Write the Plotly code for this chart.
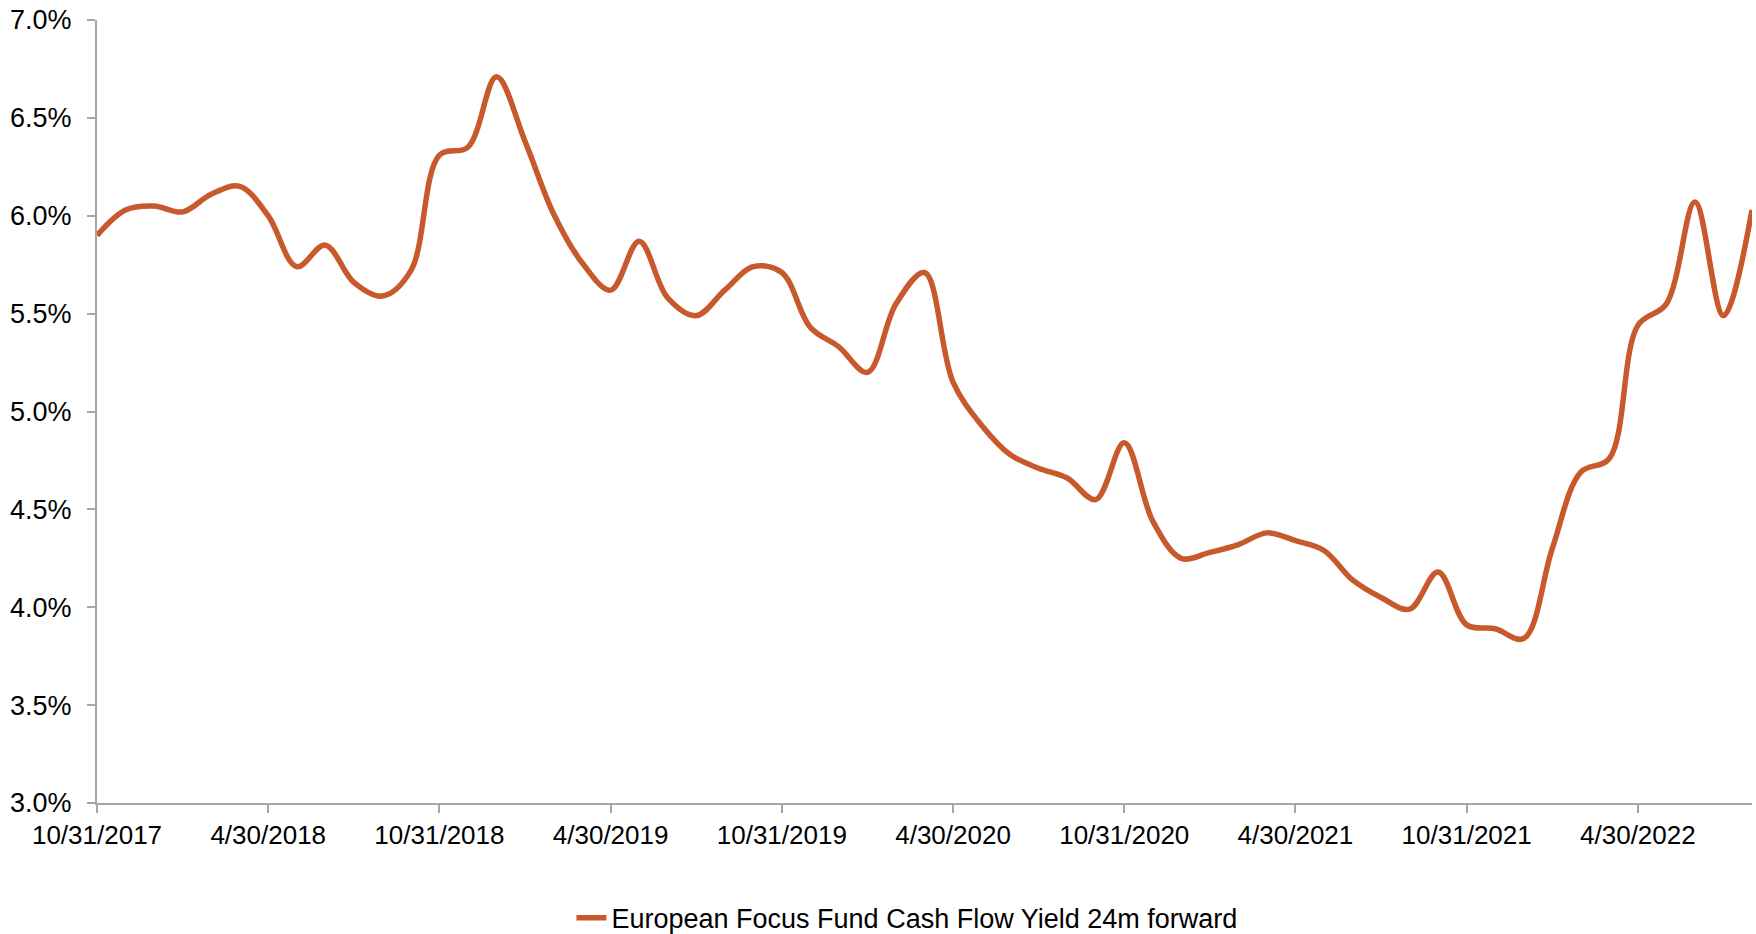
import pandas as pd
import plotly.graph_objects as go

# Month-end observation dates, Oct 2017 - Aug 2022
month_ends = pd.date_range("2017-10-31", "2022-08-31", freq="ME")
dates = [f"{d.month}/{d.day}/{d.year}" for d in month_ends]

# Cash flow yield, 24m forward (%)
cash_flow_yield = [
    5.90, 6.03, 6.05, 6.02, 6.11, 6.15, 6.00, 5.74, 5.85, 5.66,
    5.59, 5.72, 6.31, 6.35, 6.71, 6.38, 6.01, 5.76, 5.62, 5.87,
    5.58, 5.49, 5.62, 5.74, 5.71, 5.43, 5.33, 5.20, 5.55, 5.71,
    5.15, 4.93, 4.78, 4.71, 4.66, 4.55, 4.84, 4.44, 4.25, 4.28,
    4.32, 4.38, 4.34, 4.29, 4.14, 4.05, 3.99, 4.18, 3.91, 3.89,
    3.84, 4.30, 4.69, 4.76, 5.44, 5.55, 6.07, 5.49, 6.03,
]

series_name = "European Focus Fund Cash Flow Yield 24m forward"

# Semi-annual tick labels
tick_labels = [dates[i] for i in range(0, len(dates), 6)]
y_ticks = [3.0, 3.5, 4.0, 4.5, 5.0, 5.5, 6.0, 6.5, 7.0]

FONT = "Arial, 'Liberation Sans', sans-serif"
LINE_COLOR = "#C8592C"
AXIS_COLOR = "#A6A6A6"

fig = go.Figure()
fig.add_trace(
    go.Scatter(
        x=dates,
        y=cash_flow_yield,
        mode="lines",
        name=series_name,
        line=dict(color=LINE_COLOR, width=5.5, shape="spline", smoothing=1.0),
    )
)

fig.update_layout(
    width=1756,
    height=934,
    margin=dict(l=97, r=4, t=20, b=131),
    paper_bgcolor="white",
    plot_bgcolor="white",
    font=dict(family=FONT, size=26, color="black"),
    showlegend=True,
    legend=dict(
        orientation="h",
        xref="container",
        yref="container",
        x=0.5165,
        y=0.017,
        xanchor="center",
        yanchor="middle",
        font=dict(family=FONT, size=27, color="black"),
        bgcolor="rgba(0,0,0,0)",
    ),
)

fig.update_xaxes(
    type="category",
    range=[0, len(dates) - 1],
    tickmode="array",
    tickvals=tick_labels,
    ticktext=tick_labels,
    showgrid=False,
    zeroline=False,
    showline=True,
    linecolor=AXIS_COLOR,
    linewidth=2,
    ticks="outside",
    ticklen=8,
    tickwidth=2,
    tickcolor=AXIS_COLOR,
    tickangle=0,
    tickfont=dict(family=FONT, size=26, color="black"),
)

fig.update_yaxes(
    range=[3.0, 7.0],
    tickmode="array",
    tickvals=y_ticks,
    ticktext=[f"{v:.1f}%" for v in y_ticks],
    showgrid=False,
    zeroline=False,
    showline=True,
    linecolor=AXIS_COLOR,
    linewidth=2,
    ticks="outside",
    ticklen=8,
    tickwidth=2,
    tickcolor=AXIS_COLOR,
    ticklabelstandoff=10,
    tickfont=dict(family=FONT, size=27, color="black"),
)

fig.write_html("out.html")
